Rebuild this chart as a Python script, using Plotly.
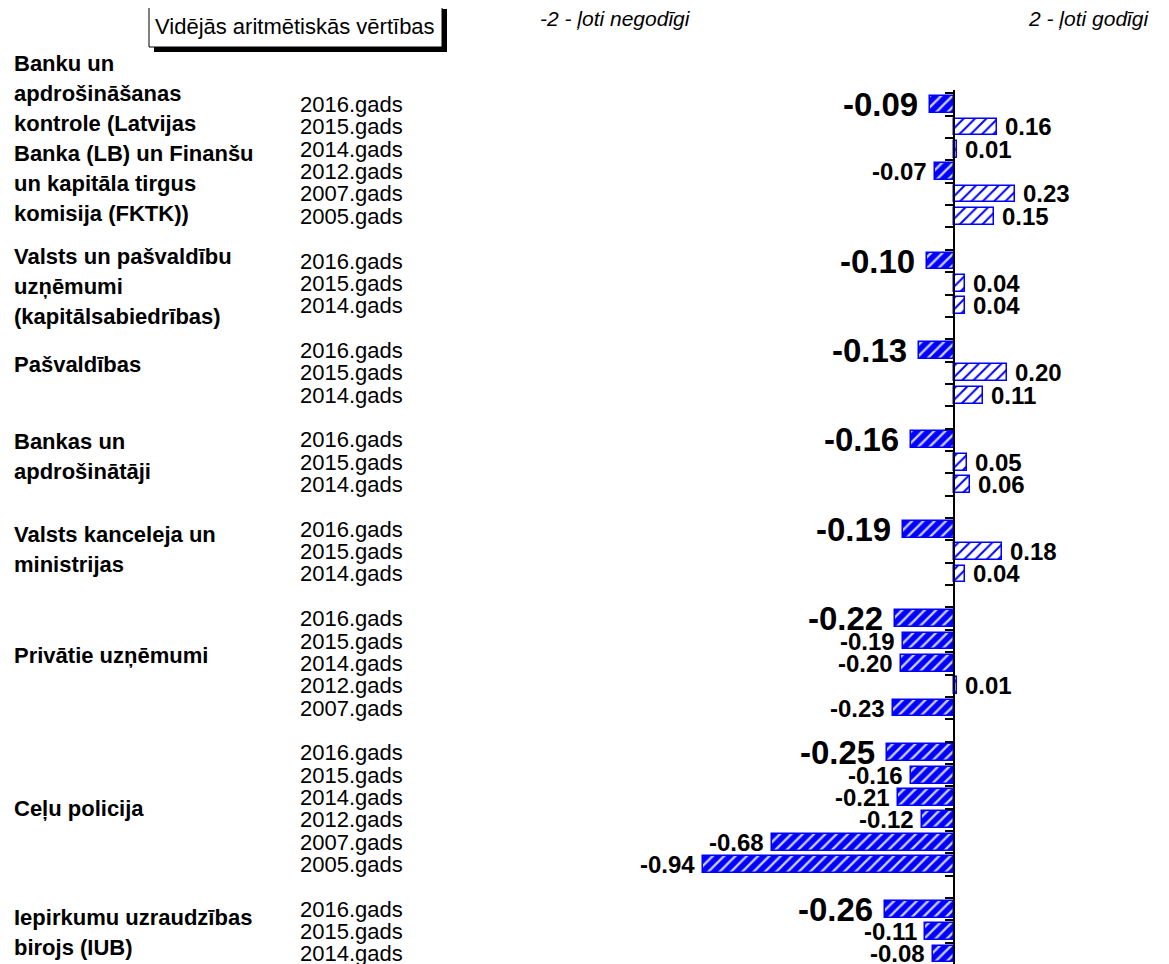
import plotly.graph_objects as go

# ---------------- data ----------------
group_names = [
    ["Banku un", "apdrošināšanas", "kontrole (Latvijas", "Banka (LB) un Finanšu",
     "un kapitāla tirgus", "komisija (FKTK))"],
    ["Valsts un pašvaldību", "uzņēmumi", "(kapitālsabiedrības)"],
    ["Pašvaldības"],
    ["Bankas un", "apdrošinātāji"],
    ["Valsts kanceleja un", "ministrijas"],
    ["Privātie uzņēmumi"],
    ["Ceļu policija"],
    ["Iepirkumu uzraudzības", "birojs (IUB)"],
]
group_years = [
    ["2016.gads", "2015.gads", "2014.gads", "2012.gads", "2007.gads", "2005.gads"],
    ["2016.gads", "2015.gads", "2014.gads"],
    ["2016.gads", "2015.gads", "2014.gads"],
    ["2016.gads", "2015.gads", "2014.gads"],
    ["2016.gads", "2015.gads", "2014.gads"],
    ["2016.gads", "2015.gads", "2014.gads", "2012.gads", "2007.gads"],
    ["2016.gads", "2015.gads", "2014.gads", "2012.gads", "2007.gads", "2005.gads"],
    ["2016.gads", "2015.gads", "2014.gads"],
]
group_values = [
    [-0.09, 0.16, 0.01, -0.07, 0.23, 0.15],
    [-0.10, 0.04, 0.04],
    [-0.13, 0.20, 0.11],
    [-0.16, 0.05, 0.06],
    [-0.19, 0.18, 0.04],
    [-0.22, -0.19, -0.20, 0.01, -0.23],
    [-0.25, -0.16, -0.21, -0.12, -0.68, -0.94],
    [-0.26, -0.11, -0.08],
]
box_title = "Vidējās aritmētiskās vērtības"
left_note = "-2 - ļoti negodīgi"
right_note = "2 - ļoti godīgi"

# ---------------- layout helpers ----------------
W, H = 1169, 964
PAGE_OFF = 8          # default page margin around the plot div
PLOT_TOP = 90
ZERO_PX = 954
PX_PER_UNIT = 267.0
x_min = -(ZERO_PX - PAGE_OFF) / PX_PER_UNIT
x_max = (W - (ZERO_PX - PAGE_OFF)) / PX_PER_UNIT


def px_x(px):
    return (px - PAGE_OFF) / W


def px_y(py):
    return 1 - (py - PAGE_OFF) / H


FONT = "Liberation Sans, Arial, sans-serif"
BLUE = "#0000FF"

# slot positions (one empty slot between groups)
ys, xs, yrs, first_flags, group_slots = [], [], [], [], []
s = 0
for years, vals in zip(group_years, group_values):
    slots = []
    for i, (yr, v) in enumerate(zip(years, vals)):
        ys.append(s)
        xs.append(v)
        yrs.append(yr)
        first_flags.append(i == 0)
        slots.append(s)
        s += 1
    group_slots.append(slots)
    s += 1
last_slot = s - 2

neg_x = [v for v in xs if v < 0]
neg_y = [y for v, y in zip(xs, ys) if v < 0]
pos_x = [v for v in xs if v >= 0]
pos_y = [y for v, y in zip(xs, ys) if v >= 0]

fig = go.Figure()
# negative: solid blue with white diagonal hatch
fig.add_trace(go.Bar(
    x=neg_x, y=neg_y, orientation="h", width=0.75,
    marker=dict(
        color=BLUE,
        line=dict(color=BLUE, width=1.5),
        pattern=dict(shape="/", fgcolor="white", fgopacity=0.8,
                     size=8, solidity=0.3, fillmode="overlay"),
    ),
    hoverinfo="skip",
))
# positive: white with blue diagonal hatch
fig.add_trace(go.Bar(
    x=pos_x, y=pos_y, orientation="h", width=0.75,
    marker=dict(
        color=BLUE,
        line=dict(color=BLUE, width=1.5),
        pattern=dict(shape="/", bgcolor="white", fgcolor=BLUE,
                     size=8, solidity=0.25, fillmode="replace"),
    ),
    hoverinfo="skip",
))

annotations = []
# value labels
for v, y, first in zip(xs, ys, first_flags):
    size = 33 if first else 24
    gap = (10 if first else 6)
    annotations.append(dict(
        x=v, y=y, xref="x", yref="y", text=f"{v:.2f}", showarrow=False,
        xanchor="right" if v < 0 else "left", yanchor="middle",
        xshift=-gap if v < 0 else gap,
        font=dict(family=FONT, size=size, color="black", weight="bold"),
    ))
# year labels
for yr, y in zip(yrs, ys):
    annotations.append(dict(
        x=px_x(298), y=y, xref="paper", yref="y", text=yr, showarrow=False,
        xanchor="left", yanchor="middle",
        font=dict(family=FONT, size=22, color="black"),
    ))
# group labels
label_shift_px = [22, -3, 8, 6, 2, 8, 0, -1]
LINE_H = 30
for lines, slots, shift in zip(group_names, group_slots, label_shift_px):
    center = (slots[0] + slots[-1]) / 2
    n = len(lines)
    for i, line in enumerate(lines):
        annotations.append(dict(
            x=px_x(12), y=center, xref="paper", yref="y", text=line,
            showarrow=False, xanchor="left", yanchor="middle",
            yshift=shift - (i - (n - 1) / 2) * LINE_H,
            font=dict(family=FONT, size=22, color="black", weight="bold"),
        ))
# header texts
annotations.append(dict(
    x=px_x(295), y=px_y(26), xref="paper", yref="paper", text=box_title,
    showarrow=False, xanchor="center", yanchor="middle",
    font=dict(family=FONT, size=22, color="black"),
))
annotations.append(dict(
    x=px_x(538), y=px_y(19), xref="paper", yref="paper", text=left_note,
    showarrow=False, xanchor="left", yanchor="middle",
    font=dict(family=FONT, size=21, color="black", style="italic"),
))
annotations.append(dict(
    x=px_x(1151), y=px_y(19), xref="paper", yref="paper", text=right_note,
    showarrow=False, xanchor="right", yanchor="middle",
    font=dict(family=FONT, size=21, color="black", style="italic"),
))

shapes = [
    dict(type="rect", xref="paper", yref="paper",
         x0=px_x(154), x1=px_x(447), y0=px_y(52), y1=px_y(9),
         fillcolor="black", line=dict(width=0), layer="above"),
    dict(type="rect", xref="paper", yref="paper",
         x0=px_x(149), x1=px_x(442), y0=px_y(47), y1=px_y(4),
         fillcolor="white", line=dict(color="black", width=1), layer="above"),
]

tick_vals = [k - 0.5 for k in range(0, last_slot + 2)]

# plot area spans from PLOT_TOP down to the bottom of the window
plot_top_frac = 1 - (PLOT_TOP - PAGE_OFF) / H
plot_bot_frac = 1 - (964 - PAGE_OFF) / H

fig.update_layout(
    width=W, height=H,
    margin=dict(l=0, r=0, t=0, b=0),
    plot_bgcolor="white", paper_bgcolor="white",
    showlegend=False, bargap=0, barmode="overlay",
    xaxis=dict(range=[x_min, x_max], domain=[0, 1], visible=False,
               showgrid=False, zeroline=False, fixedrange=True),
    yaxis=dict(range=[last_slot + 0.45, -0.65], domain=[plot_bot_frac, plot_top_frac],
               anchor="free", position=(0 - x_min) / (x_max - x_min),
               showline=True, linecolor="black", linewidth=2,
               ticks="outside", ticklen=8, tickwidth=2, tickcolor="black",
               tickvals=tick_vals, showticklabels=False,
               showgrid=False, zeroline=False, fixedrange=True),
    annotations=annotations,
    shapes=shapes,
)

fig.write_html("out.html")
